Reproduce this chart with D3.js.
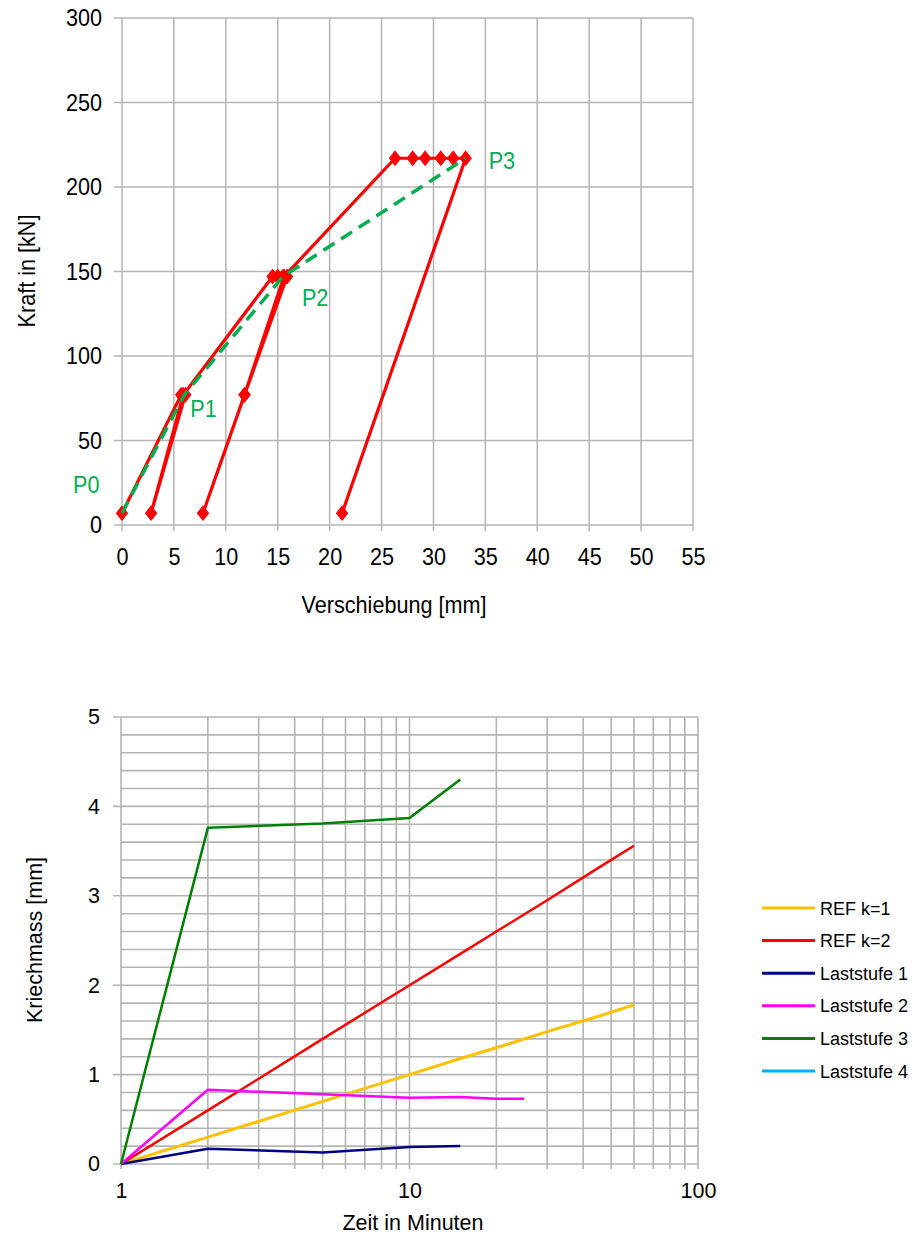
<!DOCTYPE html>
<html><head><meta charset="utf-8">
<script src="https://cdn.jsdelivr.net/npm/d3@7"></script>
<style>
body{margin:0;background:#fff;}
svg{display:block;}
text{font-family:"Liberation Sans",Arial,sans-serif;}
</style></head>
<body>
<script>
// ---------- Top chart data ----------
const forceX = [0, 5.7, 5.9, 6.1, 2.8, 5.9, 14.5, 15.0, 15.5, 15.9, 11.8, 7.8, 11.8, 15.6, 26.3, 28.0, 29.2, 30.7, 31.9, 33.1, 21.2];
const forceY = [7, 77, 77, 77, 7, 77, 147, 147, 147, 147, 77, 7, 77, 147, 217, 217, 217, 217, 217, 217, 7];
const envX = [0, 6.0, 15.5, 33.1];
const envY = [7, 77, 147, 217];
const envLabels = ["P0", "P1", "P2", "P3"];
const topXTicks = [0,5,10,15,20,25,30,35,40,45,50,55];
const topYTicks = [0,50,100,150,200,250,300];

// ---------- Bottom chart data ----------
const refT = [1, 2, 5, 10, 15, 20, 30, 45, 60];
const ref1 = [0, 0.30, 0.70, 1.00, 1.18, 1.30, 1.48, 1.65, 1.78];
const ref2 = [0, 0.60, 1.40, 2.00, 2.35, 2.60, 2.95, 3.31, 3.56];
const ls1T = [1, 2, 5, 10, 15];
const ls1 = [0, 0.17, 0.13, 0.19, 0.20];
const ls2T = [1, 2, 5, 10, 15, 20, 25];
const ls2 = [0, 0.83, 0.78, 0.74, 0.75, 0.73, 0.73];
const ls3T = [1, 2, 5, 10, 15];
const ls3 = [0, 3.76, 3.81, 3.87, 4.30];
const ls4T = [];
const ls4 = [];
const seriesNames = ["REF k=1", "REF k=2", "Laststufe 1", "Laststufe 2", "Laststufe 3", "Laststufe 4"];
const seriesColors = ["#ffc000", "#ff0000", "#000080", "#ff00ff", "#008000", "#00b0f0"];
const botXTicks = [1, 10, 100];
const botYTicks = [0,1,2,3,4,5];

const W = 921, H = 1239;
const svg = d3.select("body").append("svg").attr("width", W).attr("height", H);
const gridCol = "#b4b4b4";
function squeeze(sel, f){
  sel.each(function(){
    const L = this.getComputedTextLength();
    d3.select(this).attr("textLength", L*f).attr("lengthAdjust","spacingAndGlyphs");
  });
}

// ===== TOP CHART =====
const TF = 24, SQ = 0.9;
const tx = d3.scaleLinear().domain([0,55]).range([122,693]);
const ty = d3.scaleLinear().domain([0,300]).range([525,18]);
const gTop = svg.append("g");
gTop.append("g").selectAll("line").data(topXTicks).join("line")
  .attr("x1", d=>tx(d)).attr("x2", d=>tx(d)).attr("y1", ty(300)).attr("y2", ty(0)+6)
  .attr("stroke", gridCol).attr("stroke-width", 1.5);
gTop.append("g").selectAll("line").data(topYTicks).join("line")
  .attr("y1", d=>ty(d)).attr("y2", d=>ty(d)).attr("x1", tx(0)-8).attr("x2", tx(55))
  .attr("stroke", gridCol).attr("stroke-width", 1.5);
const txAxis = gTop.append("g").attr("transform", `translate(0,${ty(0)})`)
  .call(d3.axisBottom(tx).tickValues(topXTicks).tickSize(0).tickPadding(23));
const tyAxis = gTop.append("g").attr("transform", `translate(${tx(0)},0)`)
  .call(d3.axisLeft(ty).tickValues(topYTicks).tickSize(0).tickPadding(20));
[txAxis, tyAxis].forEach(a=>{
  a.select(".domain").remove();
  a.attr("font-family", null).attr("font-size", null);
  a.selectAll("text").attr("font-size", TF).attr("fill","#000").call(squeeze, SQ);
});
gTop.append("text").attr("x", 394).attr("y", 613).attr("text-anchor","middle")
  .attr("font-size", TF).text("Verschiebung [mm]").call(squeeze, SQ);
gTop.append("text").attr("transform","translate(35,271) rotate(-90)")
  .attr("text-anchor","middle").attr("font-size", TF).text("Kraft in [kN]").call(squeeze, SQ);

const forcePts = forceX.map((x,i)=>[x, forceY[i]]);
const lineT = d3.line().x(d=>tx(d[0])).y(d=>ty(d[1]));
gTop.append("path").attr("d", lineT(forcePts)).attr("fill","none")
  .attr("stroke","#ff0000").attr("stroke-width",3.2).attr("stroke-linejoin","round");
gTop.append("g").selectAll("path").data(forcePts).join("path")
  .attr("d", d3.symbol(d3.symbolDiamond, 80)())
  .attr("transform", d=>`translate(${tx(d[0])},${ty(d[1])}) scale(1.15,0.85)`)
  .attr("fill","#ff0000").attr("stroke","#ff0000").attr("stroke-width",1);
const envPts = envX.map((x,i)=>[x, envY[i]]);
gTop.append("path").attr("d", lineT(envPts)).attr("fill","none")
  .attr("stroke","#00b050").attr("stroke-width",3.5).attr("stroke-dasharray","13,8");
const labOff = [[-49,-20],[6,22],[19,29],[23,11]];
gTop.append("g").selectAll("text").data(envPts).join("text")
  .attr("font-size", TF).attr("fill","#00b050")
  .attr("x", (d,i)=>tx(d[0])+labOff[i][0]).attr("y", (d,i)=>ty(d[1])+labOff[i][1])
  .text((d,i)=>envLabels[i]).call(squeeze, SQ);

// ===== BOTTOM CHART =====
const BF = 21.5;
const bx = d3.scaleLog().domain([1,100]).range([121,698]);
const by = d3.scaleLinear().domain([0,5]).range([1164,717]);
const gBot = svg.append("g");
const vLines = [];
[1,10].forEach(dec=>{ for(let k=1;k<10;k++) vLines.push(dec*k); });
vLines.push(100);
const hLines = d3.range(0, 26).map(i=>i*0.2);
gBot.append("g").selectAll("line").data(hLines).join("line")
  .attr("y1", d=>by(d)).attr("y2", d=>by(d))
  .attr("x1", d=> (Math.abs(d-Math.round(d))<1e-6) ? bx(1)-8 : bx(1)).attr("x2", bx(100))
  .attr("stroke", gridCol).attr("stroke-width", 1.6);
gBot.append("g").selectAll("line").data(vLines).join("line")
  .attr("x1", d=>bx(d)).attr("x2", d=>bx(d)).attr("y1", by(5)).attr("y2", by(0)+5)
  .attr("stroke", gridCol).attr("stroke-width", 1.6);
const bxAxis = gBot.append("g").attr("transform", `translate(0,${by(0)})`)
  .call(d3.axisBottom(bx).tickValues(botXTicks).tickFormat(d3.format("d")).tickSize(0).tickPadding(19));
const byAxis = gBot.append("g").attr("transform", `translate(${bx(1)},0)`)
  .call(d3.axisLeft(by).tickValues(botYTicks).tickFormat(d3.format("d")).tickSize(0).tickPadding(21));
[bxAxis, byAxis].forEach(a=>{
  a.select(".domain").remove();
  a.attr("font-family", null).attr("font-size", null);
  a.selectAll("text").attr("font-size", BF).attr("fill","#000");
});
gBot.append("text").attr("x", 413).attr("y", 1230).attr("text-anchor","middle")
  .attr("font-size", BF).text("Zeit in Minuten");
gBot.append("text").attr("transform","translate(42,940) rotate(-90)")
  .attr("text-anchor","middle").attr("font-size", BF).text("Kriechmass [mm]");

const seriesT = [refT, refT, ls1T, ls2T, ls3T, ls4T];
const seriesV = [ref1, ref2, ls1, ls2, ls3, ls4];
const widths = [3, 2.5, 2.5, 2.5, 2.5, 2.5];
const lineB = d3.line().x(d=>bx(d[0])).y(d=>by(d[1]));
seriesT.forEach((ts, s)=>{
  if(!ts.length) return;
  const pts = ts.map((t,i)=>[t, seriesV[s][i]]);
  gBot.append("path").attr("d", lineB(pts)).attr("fill","none")
    .attr("stroke", seriesColors[s]).attr("stroke-width", widths[s]).attr("stroke-linejoin","round");
});
const leg = gBot.append("g").attr("transform","translate(762,908)");
seriesNames.forEach((n,i)=>{
  const g = leg.append("g").attr("transform",`translate(0,${i*32.6})`);
  g.append("line").attr("x1",0).attr("x2",53).attr("y1",0).attr("y2",0)
    .attr("stroke", seriesColors[i]).attr("stroke-width", 3);
  g.append("text").attr("x",58).attr("y",6.5).attr("font-size",18).text(n);
});
</script>
</body></html>
